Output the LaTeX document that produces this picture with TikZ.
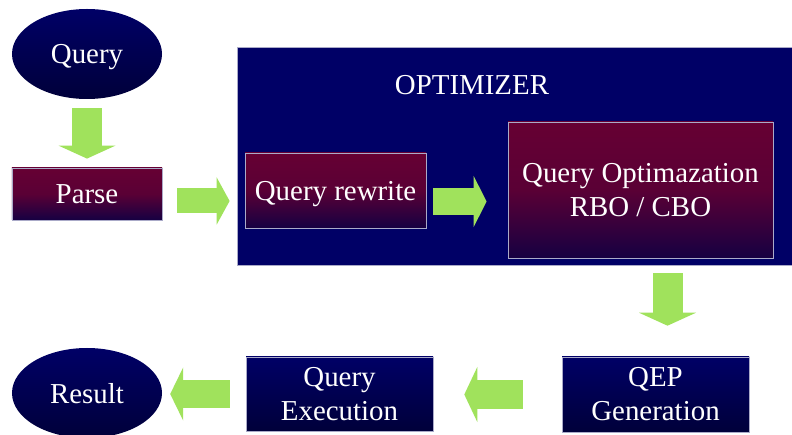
\documentclass[tikz,border=0pt]{standalone}
\usepackage{fontspec}
\setmainfont{Liberation Serif}
\usetikzlibrary{shapes.geometric, arrows.meta}
\definecolor{optnavy}{RGB}{0,0,102}
\definecolor{darknavy}{RGB}{0,0,58}
\definecolor{boxred}{RGB}{102,0,51}
\definecolor{boxdark}{RGB}{22,0,66}
\definecolor{arrowgreen}{RGB}{160,226,92}
\definecolor{edgegray}{RGB}{170,170,200}
\newcommand{\boxfont}{\fontsize{29}{34}\selectfont}
\tikzset{
  ovalnode/.style = {ellipse, minimum width=150bp, minimum height=90bp,
                     inner sep=0pt, top color=optnavy, bottom color=darknavy,
                     text=white, text depth=0pt, font=\boxfont},
  redbox/.style   = {rectangle, draw=edgegray, line width=0.8bp,
                     top color=boxred, bottom color=boxdark,
                     middle color=boxred!85!boxdark,
                     text=white, align=center, inner sep=0pt, font=\boxfont},
  bluebox/.style  = {rectangle, draw=edgegray, line width=0.6bp,
                     top color=optnavy, bottom color=darknavy,
                     text=white, align=center, inner sep=0pt, font=\boxfont},
  optbox/.style   = {rectangle, draw=edgegray, line width=0.8bp,
                     fill=optnavy, minimum width=555bp, minimum height=218bp},
  fatarrow/.style = {draw=arrowgreen, line width=#1,
                     -{Triangle[length=13bp, width=0pt 1.9, line width=0pt]}},
  fatarrow/.default = 29bp,
}

\begin{document}
\begin{tikzpicture}[x=1bp, y=-1bp]

    \useasboundingbox[fill=white] (0,0) rectangle (792,435);

    \node[ovalnode] (query) at (87,54) {Query};

    \node[redbox, minimum width=150bp, minimum height=52bp]
      (parse) at (87,194) {Parse};

    \node[optbox] (opt) at (514.5,156) {};
    \node[text=white, font=\boxfont] (opttitle) at (472,85) {OPTIMIZER};

    \node[redbox, text depth=0pt, minimum width=181bp, minimum height=75bp]
      (rewrite) at (335.5,190.5) {Query rewrite};

    \node[redbox, minimum width=265bp, minimum height=136bp]
      (qo) at (640.5,190) {Query Optimazation\\ RBO / CBO};

    \node[bluebox, minimum width=187bp, minimum height=75bp]
      (qep) at (655.5,394.5) {QEP\\ Generation};

    \node[bluebox, minimum width=187bp, minimum height=74bp]
      (qe) at (339.5,394) {Query\\ Execution};

    \node[ovalnode] (result) at (87,393) {Result};

    \draw[fatarrow=30bp, shorten <=9bp, shorten >=9bp] (query) -- (parse);
    \draw[fatarrow=25bp, shorten <=15bp, shorten >=15bp]
      ([yshift=-7bp]parse.east) -- ([yshift=-7bp]parse.east -| rewrite.west);
    \draw[fatarrow=27bp, shorten <=7bp, shorten >=21bp]
      ([yshift=-11bp]rewrite.east) -- ([yshift=-11bp]rewrite.east -| qo.west);
    \draw[fatarrow=30bp, shorten <=8bp, shorten >=31bp]
      ([xshift=12bp]qep.north |- opt.south) -- ([xshift=12bp]qep.north);
    \draw[fatarrow, shorten <=39bp, shorten >=31bp]
      (qep.west) -- (qep.west -| qe.east);
    \draw[fatarrow=28bp, shorten <=16bp, shorten >=8bp]
      (qe.west) -- (qe.west -| result.east);

  \end{tikzpicture}
\end{document}
